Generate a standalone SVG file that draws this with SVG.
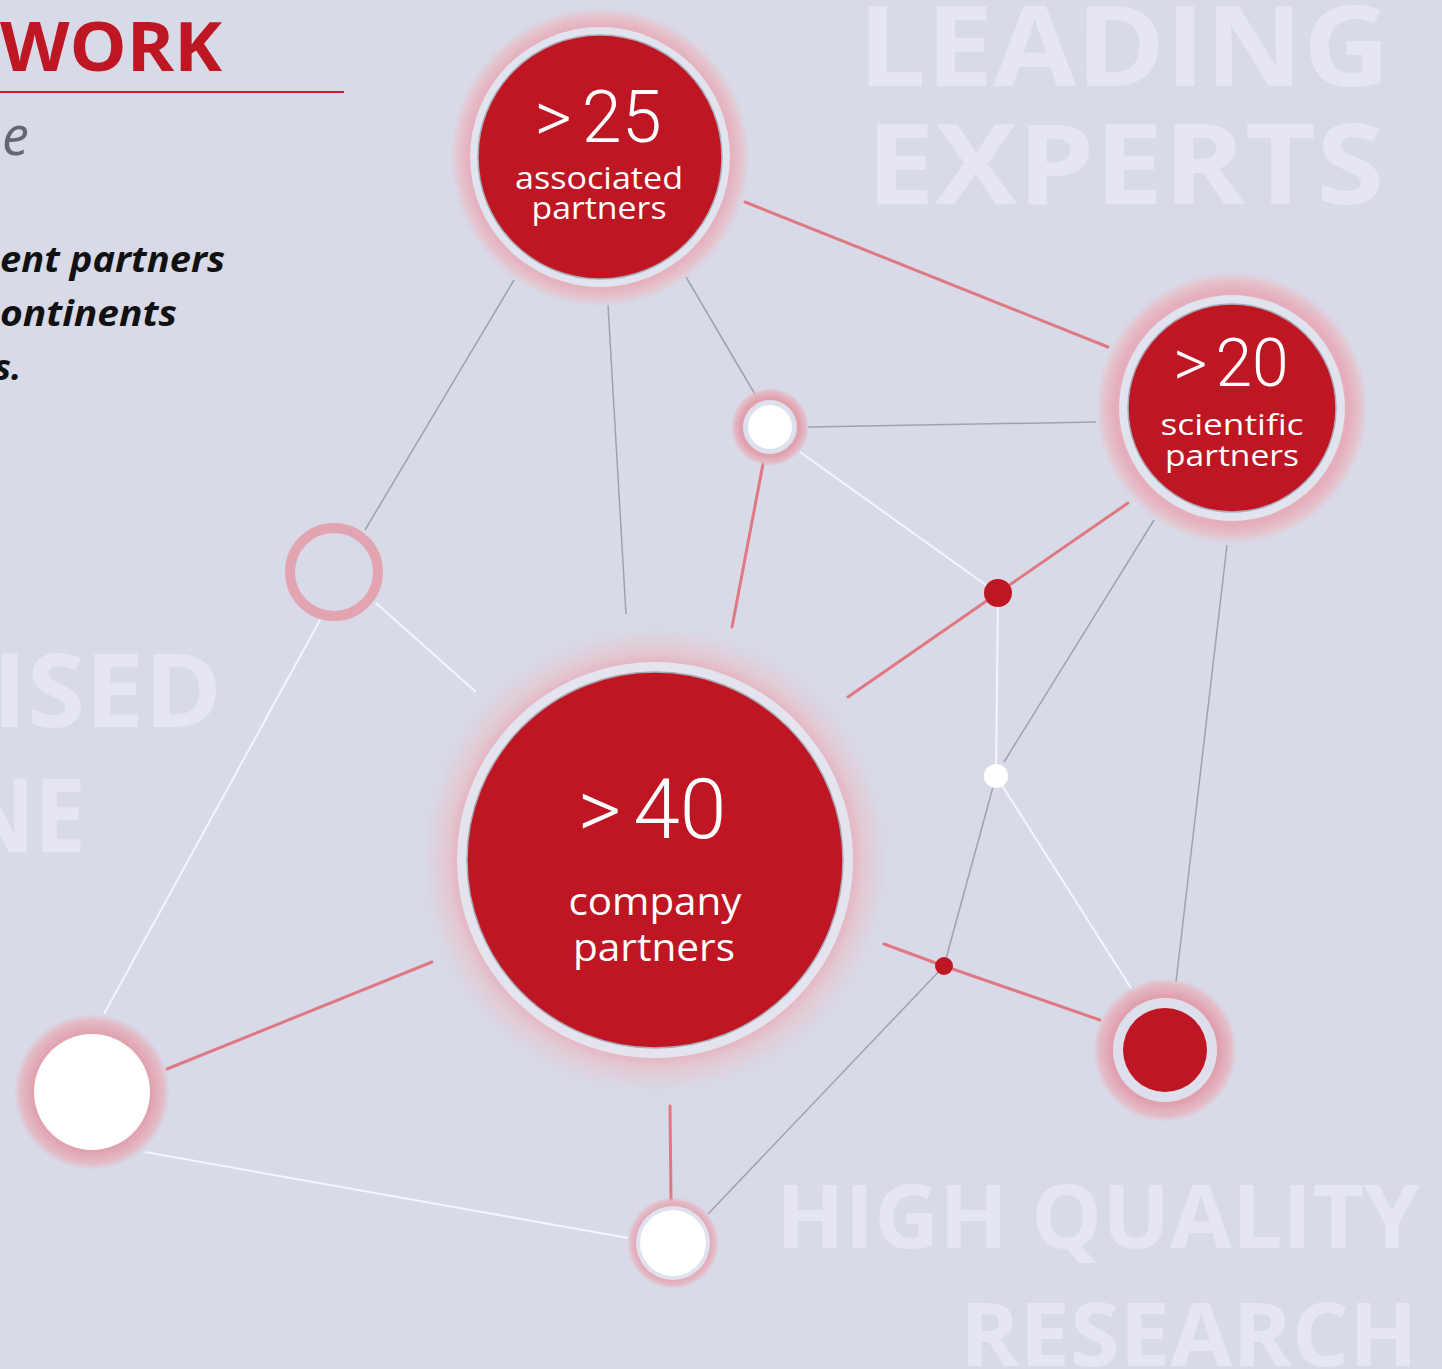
<svg xmlns="http://www.w3.org/2000/svg" width="1442" height="1369" viewBox="0 0 1442 1369">
<defs>
<style>
.bg{fill:#d8dae8}
.ghost{font-family:"Open Sans","Liberation Sans",sans-serif;font-weight:700;fill:#e5e6f2}
.red{stroke:#e07883;stroke-width:3;fill:none;stroke-linecap:round}
.grey{stroke:#9fa1b0;stroke-width:1.5;fill:none}
.white{stroke:#f5f5fb;stroke-width:2;fill:none}
.num{font-family:Roboto,"Open Sans","Liberation Sans",sans-serif;font-weight:300;fill:#ffffff;text-anchor:middle}
.lbl{font-family:"Open Sans","Liberation Sans",sans-serif;fill:#ffffff;text-anchor:middle}
.core{fill:#be1622}
.ringlight{fill:#e1e3ef}
.intro{font-family:"Open Sans","Liberation Sans",sans-serif;font-weight:700;font-style:italic;fill:#111111}
</style>
<radialGradient id="haloBig" cx="0.5" cy="0.5" r="0.5">
<stop offset="0" stop-color="#e4aebb"/>
<stop offset="0.86" stop-color="#e4aebb"/>
<stop offset="0.94" stop-color="#e8bcc6" stop-opacity="0.8"/>
<stop offset="1" stop-color="#e8c2cb" stop-opacity="0"/>
</radialGradient>
<radialGradient id="haloCo" cx="0.5" cy="0.5" r="0.5">
<stop offset="0" stop-color="#e4b4bf"/>
<stop offset="0.84" stop-color="#e4b4bf"/>
<stop offset="0.9" stop-color="#e6c4cd" stop-opacity="0.7"/>
<stop offset="1" stop-color="#e4c8d0" stop-opacity="0"/>
</radialGradient>
<radialGradient id="haloSmall" cx="0.5" cy="0.5" r="0.5">
<stop offset="0" stop-color="#e0a0ad"/>
<stop offset="0.75" stop-color="#e0a0ad"/>
<stop offset="0.92" stop-color="#e6b4bf" stop-opacity="0.8"/>
<stop offset="1" stop-color="#e6b8c2" stop-opacity="0"/>
</radialGradient>
</defs>

<rect class="bg" x="0" y="0" width="1442" height="1369"/>

<g id="background-text">
<text class="ghost" x="858" y="86" font-size="112" textLength="532" lengthAdjust="spacingAndGlyphs">LEADING</text>
<text class="ghost" x="866" y="204" font-size="112" textLength="518" lengthAdjust="spacingAndGlyphs">EXPERTS</text>
<text class="ghost" x="-8" y="727" font-size="102" textLength="230" lengthAdjust="spacingAndGlyphs">ISED</text>
<text class="ghost" x="-40" y="852" font-size="102" textLength="126" lengthAdjust="spacingAndGlyphs">NE</text>
<text class="ghost" x="776" y="1248" font-size="88" textLength="644" lengthAdjust="spacingAndGlyphs">HIGH QUALITY</text>
<text class="ghost" x="960" y="1366" font-size="88" textLength="458" lengthAdjust="spacingAndGlyphs">RESEARCH</text>
</g>

<g id="intro">
<text x="0" y="71" font-family="'Open Sans','Liberation Sans',sans-serif" font-weight="700" font-size="68" fill="#be1622" textLength="222" lengthAdjust="spacingAndGlyphs">WORK</text>
<line x1="0" y1="92" x2="344" y2="92" stroke="#c8202c" stroke-width="2"/>
<text x="2" y="155" font-family="'Open Sans','Liberation Sans',sans-serif" font-style="italic" font-size="54" fill="#666670">e</text>
<text class="intro" x="0" y="272" font-size="36" textLength="225" lengthAdjust="spacingAndGlyphs">ent partners</text>
<text class="intro" x="0" y="326" font-size="36" textLength="177" lengthAdjust="spacingAndGlyphs">ontinents</text>
<text class="intro" x="-6" y="380" font-size="36">s.</text>
</g>

<g id="connectors">
<line class="grey" x1="686" y1="277" x2="756" y2="396"/>
<line class="grey" x1="608" y1="305" x2="626" y2="614"/>
<line class="grey" x1="514" y1="280" x2="365" y2="530"/>
<line class="white" x1="376" y1="603" x2="476" y2="692"/>
<line class="white" x1="320" y1="620" x2="104" y2="1014" stroke-width="1.5"/>
<line class="red" x1="167" y1="1069" x2="432" y2="962"/>
<line class="white" x1="145" y1="1152" x2="628" y2="1238"/>
<line class="red" x1="671" y1="1200" x2="670" y2="1106"/>
<line class="grey" x1="708" y1="1214" x2="944" y2="966"/>
<polyline class="red" points="884,944 944,966 1100,1020"/>
<line class="grey" x1="944" y1="966" x2="996" y2="776"/>
<line class="white" x1="996" y1="776" x2="1131" y2="988"/>
<line class="grey" x1="1004" y1="762" x2="1154" y2="520"/>
<line class="white" x1="996" y1="776" x2="998" y2="593"/>
<polyline class="red" points="848,697 998,593 1128,503"/>
<line class="white" x1="800" y1="452" x2="990" y2="588"/>
<line class="grey" x1="808" y1="427" x2="1096" y2="422"/>
<line class="red" x1="763" y1="464" x2="732" y2="627"/>
<line class="grey" x1="1227" y1="545" x2="1176" y2="982"/>
<line class="red" x1="745" y1="202" x2="1108" y2="347"/>
</g>

<g id="node-associated">
<circle cx="600" cy="157" r="150" fill="url(#haloBig)"/>
<circle class="ringlight" cx="600" cy="157" r="130"/>
<circle class="core" cx="600" cy="157" r="122" stroke="#a9aab6" stroke-width="1.5"/>
<text class="num" x="598" y="142" font-size="72">&gt;<tspan dx="10">25</tspan></text>
<text class="lbl" x="599" y="189" font-size="31" textLength="168" lengthAdjust="spacingAndGlyphs">associated</text>
<text class="lbl" x="599" y="219" font-size="31" textLength="135" lengthAdjust="spacingAndGlyphs">partners</text>
</g>

<g id="node-scientific">
<circle cx="1232" cy="408" r="136" fill="url(#haloBig)"/>
<circle class="ringlight" cx="1232" cy="408" r="113"/>
<circle class="core" cx="1232" cy="408" r="104" stroke="#a9aab6" stroke-width="1.5"/>
<text class="num" x="1231" y="386" font-size="66">&gt;<tspan dx="8">20</tspan></text>
<text class="lbl" x="1232" y="435" font-size="30" textLength="143" lengthAdjust="spacingAndGlyphs">scientific</text>
<text class="lbl" x="1232" y="466" font-size="30" textLength="134" lengthAdjust="spacingAndGlyphs">partners</text>
</g>

<g id="node-company">
<circle cx="655" cy="860" r="234" fill="url(#haloCo)"/>
<circle cx="655" cy="860" r="198" fill="#e3e4ee"/>
<circle class="core" cx="655" cy="860" r="188" stroke="#a9aab6" stroke-width="1.5"/>
<text class="num" x="652" y="838" font-size="84">&gt;<tspan dx="12">40</tspan></text>
<text class="lbl" x="655" y="915" font-size="38" textLength="173" lengthAdjust="spacingAndGlyphs">company</text>
<text class="lbl" x="654" y="961" font-size="38" textLength="162" lengthAdjust="spacingAndGlyphs">partners</text>
</g>

<g id="node-small-white-top">
<circle cx="770" cy="427" r="39" fill="url(#haloSmall)"/>
<circle cx="770" cy="427" r="27" fill="#dde1ec"/>
<circle cx="770" cy="427" r="22" fill="#ffffff"/>
</g>

<g id="node-hollow">
<circle cx="334" cy="572" r="44" fill="none" stroke="#e2a4b0" stroke-width="10"/>
</g>

<g id="node-big-white">
<circle cx="92" cy="1092" r="78" fill="url(#haloSmall)"/>
<circle cx="92" cy="1092" r="58" fill="#ffffff"/>
</g>

<g id="node-bottom-white">
<circle cx="673" cy="1243" r="46" fill="url(#haloSmall)"/>
<circle cx="673" cy="1243" r="37" fill="#dfe2ee"/>
<circle cx="673" cy="1243" r="33" fill="#ffffff"/>
</g>

<g id="node-red-right">
<circle cx="1165" cy="1050" r="72" fill="url(#haloSmall)"/>
<circle cx="1165" cy="1050" r="52" fill="#dde0ec"/>
<circle class="core" cx="1165" cy="1050" r="42"/>
</g>

<g id="dot-red-upper"><circle class="core" cx="998" cy="593" r="14"/></g>
<g id="dot-white"><circle cx="996" cy="776" r="12" fill="#ffffff"/></g>
<g id="dot-red-lower"><circle class="core" cx="944" cy="966" r="9"/></g>
</svg>
